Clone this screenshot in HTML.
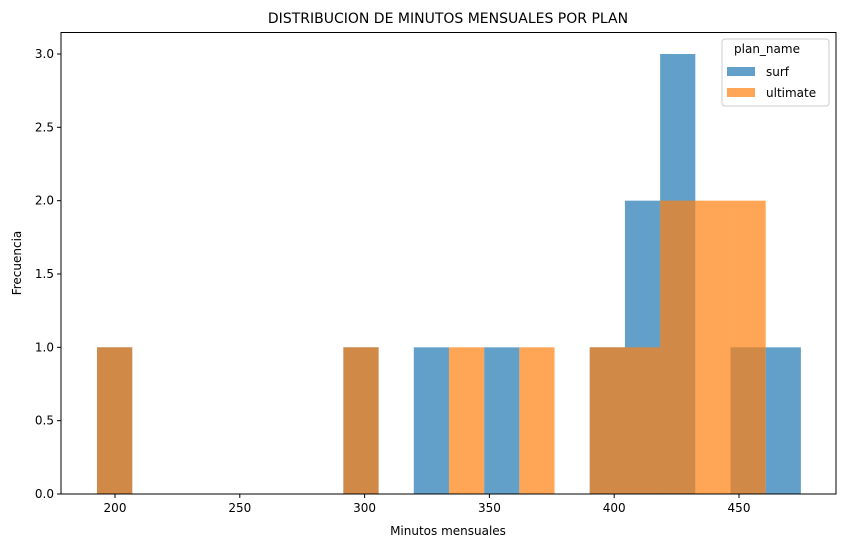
<!DOCTYPE html>
<html><head><meta charset="utf-8"><style>
body{margin:0;background:#fff;font-family:"Liberation Sans","DejaVu Sans",sans-serif}
text{font-family:"DejaVu Sans","Liberation Sans",sans-serif;fill:#000}
</style></head><body>
<svg id="chart" width="846" height="547" xmlns="http://www.w3.org/2000/svg">
<g id="bars"></g>
<g id="axes"></g>
</svg>
<script>
const binStart = 192.8;
const binWidth = 14.1;
const surfCounts = [1,0,0,0,0,0,0,1,0,1,0,1,0,0,1,2,3,0,1,1];
const ultimateCounts = [1,0,0,0,0,0,0,1,0,0,1,0,1,0,1,1,2,2,2,0];
const xTicks = [200,250,300,350,400,450];
const yTicks = [0,0.5,1,1.5,2,2.5,3];
const yTickLabels = ["0.0","0.5","1.0","1.5","2.0","2.5","3.0"];

const L=61,R=836,T=32.5,B=494;
function xs(v){return 115+(v-200)*2.496;}
function ys(v){return B-v*146.67;}
const NS="http://www.w3.org/2000/svg";
function mk(tag,attrs,parent){const e=document.createElementNS(NS,tag);for(const k in attrs)e.setAttribute(k,attrs[k]);parent.appendChild(e);return e;}
const bars=document.getElementById('bars'), axes=document.getElementById('axes');
function drawSeries(counts,color,name){
  counts.forEach((c,i)=>{ if(!c) return;
    const x0=xs(binStart+i*binWidth), x1=xs(binStart+(i+1)*binWidth);
    const r=mk('rect',{x:x0,y:ys(c),width:x1-x0,height:B-ys(c),fill:color,'fill-opacity':0.7},bars);
    
    
  });
}
drawSeries(surfCounts,'#1f77b4','surf');
drawSeries(ultimateCounts,'#ff7f0e','ultimate');
mk('rect',{x:L,y:T,width:R-L,height:B-T,fill:'none',stroke:'#000','stroke-width':1},axes);
xTicks.forEach(t=>{const x=xs(t);
  mk('line',{x1:x,x2:x,y1:B,y2:B+4,stroke:'#000'},axes);
  const tx=mk('text',{x:x,y:B+18,'text-anchor':'middle','font-size':12},axes);tx.textContent=t;
  
  
});
yTicks.forEach((t,i)=>{const y=ys(t);
  mk('line',{x1:L-4,x2:L,y1:y,y2:y,stroke:'#000'},axes);
  const tx=mk('text',{x:L-7,y:y+4,'text-anchor':'end','font-size':12},axes);tx.textContent=yTickLabels[i];
  
  
});
let e;
e=mk('text',{x:448,y:23,'text-anchor':'middle','font-size':14},axes);e.textContent='DISTRIBUCION DE MINUTOS MENSUALES POR PLAN';


e=mk('text',{x:448,y:535,'text-anchor':'middle','font-size':12},axes);e.textContent='Minutos mensuales';


e=mk('text',{x:21,y:263,'text-anchor':'middle','font-size':12,transform:'rotate(-90 21 263)'},axes);e.textContent='Frecuencia';


const lg=mk('g',{},axes);


mk('rect',{x:722,y:39,width:107,height:67,rx:3,fill:'#fff','fill-opacity':0.8,stroke:'#ccc'},lg);
e=mk('text',{x:767,y:53,'text-anchor':'middle','font-size':12},lg);e.textContent='plan_name';
mk('rect',{x:727,y:67,width:28,height:9,fill:'#1f77b4','fill-opacity':0.7},lg);
e=mk('text',{x:766,y:76,'font-size':12},lg);e.textContent='surf';


mk('rect',{x:727,y:88,width:28,height:9,fill:'#ff7f0e','fill-opacity':0.7},lg);
e=mk('text',{x:766,y:97,'font-size':12},lg);e.textContent='ultimate';


</script>
</body></html>
